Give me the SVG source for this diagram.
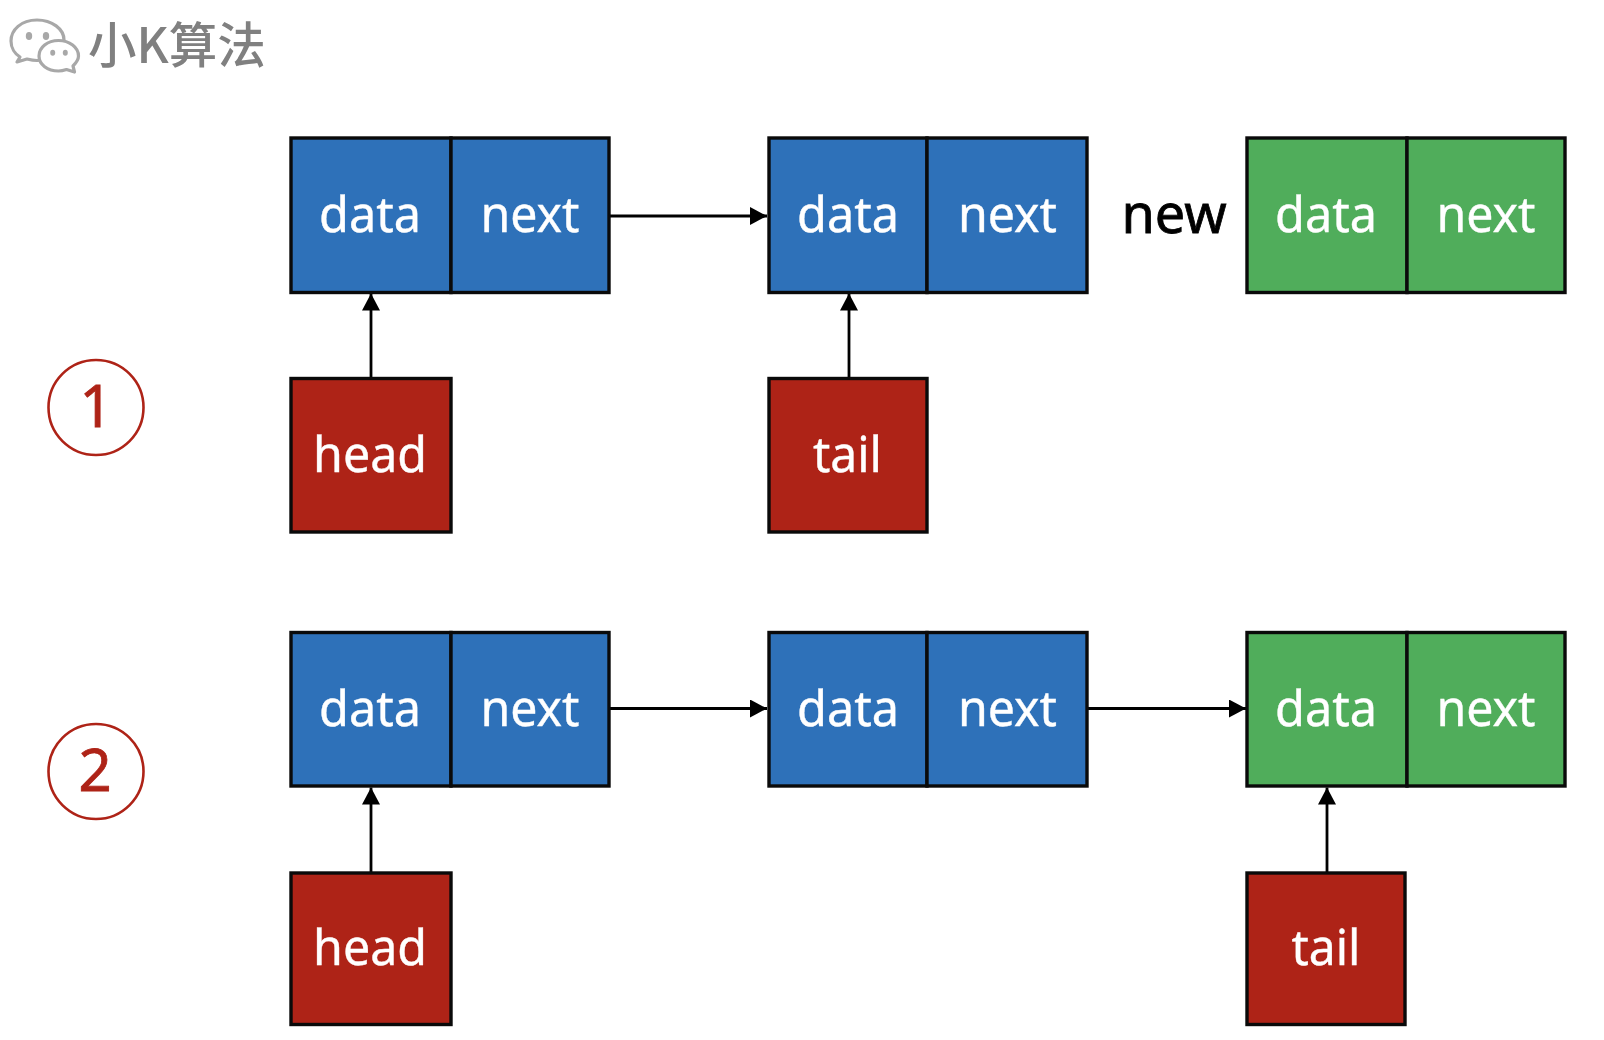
<svg xmlns="http://www.w3.org/2000/svg" width="1604" height="1040" viewBox="0 0 1604 1040">
<style>
.cell{stroke:#0a0a0a;stroke-width:3.400}
.blue{fill:#2e71b9}
.green{fill:#50ad5b}
.red{fill:#ae2317}
.t{font-family:"Noto Sans","Open Sans","DejaVu Sans",sans-serif;font-size:50px;text-anchor:middle;fill:#fff;stroke:#fff;stroke-width:.4}
.new{fill:#000;stroke:#000;stroke-width:.8;font-size:54px}
.num{fill:#ae2317;stroke:#ae2317;stroke-width:.8;font-size:58px}
.ring{fill:none;stroke:#ae2317;stroke-width:2.600}
.wire{fill:none;stroke:#000;stroke-width:2.800}
.logo{fill:#fff;stroke:#a8a8a8;stroke-width:3.200;stroke-linejoin:round}
.eye{fill:#a8a8a8}
.brand{font-family:"Noto Sans CJK SC","Noto Sans",sans-serif;font-size:48.500px;font-weight:500;fill:#808080}
</style>
<defs>
<marker id="arrow" markerUnits="userSpaceOnUse" markerWidth="18" markerHeight="18" refX="17" refY="9" orient="auto">
<path d="M0 0L17 9L0 18Z" fill="#000"/>
</marker>
</defs>
<rect width="1604" height="1040" fill="#fff"/>

<g id="logo">
<path class="logo" d="M37 20C21 20 11 30 11 41C11 48 15 54 20 57L17 62L27 59C31 60 34 60.500 37 60.500C52 60.500 64 51 64 40C64 29 52 20 37 20Z"/>
<ellipse class="eye" cx="29" cy="36" rx="3.200" ry="4"/>
<ellipse class="eye" cx="46" cy="36" rx="3.200" ry="4"/>
<path class="logo" d="M58.500 40.500C47.500 40.500 39 47.500 39 56C39 64.500 47.500 71 58.500 71C61.500 71 63.500 70.500 66.500 69.500L74.500 72L73 66C76 63 78.500 60 78.500 56C78.500 47.500 69.500 40.500 58.500 40.500Z"/>
<ellipse class="eye" cx="52.700" cy="52.700" rx="2.500" ry="3"/>
<ellipse class="eye" cx="65.300" cy="52.700" rx="2.500" ry="3"/>
<text class="brand" x="88" y="63">小K算法</text>
</g>

<g id="connectors">
<line class="wire" x1="609" y1="216" x2="767" y2="216" marker-end="url(#arrow)"/>
<line class="wire" x1="371" y1="378" x2="371" y2="293.500" marker-end="url(#arrow)"/>
<line class="wire" x1="849" y1="378" x2="849" y2="293.500" marker-end="url(#arrow)"/>
<line class="wire" x1="609" y1="708.500" x2="767" y2="708.500" marker-end="url(#arrow)"/>
<line class="wire" x1="1087" y1="708.500" x2="1246" y2="708.500" marker-end="url(#arrow)"/>
<line class="wire" x1="371" y1="873" x2="371" y2="787.500" marker-end="url(#arrow)"/>
<line class="wire" x1="1327" y1="873" x2="1327" y2="787.500" marker-end="url(#arrow)"/>
</g>

<g id="marker-1"><circle class="ring" cx="96" cy="407.500" r="47.500"/><text class="t num" x="96" y="427">1</text></g>
<g id="marker-2"><circle class="ring" cx="96" cy="771.500" r="47.500"/><text class="t num" x="95" y="791">2</text></g>

<g id="node-a1">
<rect class="cell blue" x="291" y="138" width="160" height="154.500"/><rect class="cell blue" x="451" y="138" width="158" height="154.500"/>
<text class="t" x="370" y="232" textLength="102" lengthAdjust="spacingAndGlyphs">data</text><text class="t" x="530" y="232" textLength="99" lengthAdjust="spacingAndGlyphs">next</text>
</g>
<g id="node-a2">
<rect class="cell blue" x="769" y="138" width="158" height="154.500"/><rect class="cell blue" x="927" y="138" width="160" height="154.500"/>
<text class="t" x="848" y="232" textLength="102" lengthAdjust="spacingAndGlyphs">data</text><text class="t" x="1007.500" y="232" textLength="99" lengthAdjust="spacingAndGlyphs">next</text>
</g>
<g id="label-new"><text class="t new" x="1174" y="233">new</text></g>
<g id="node-a3">
<rect class="cell green" x="1247" y="138" width="160" height="154.500"/><rect class="cell green" x="1407" y="138" width="158" height="154.500"/>
<text class="t" x="1326" y="232" textLength="102" lengthAdjust="spacingAndGlyphs">data</text><text class="t" x="1486" y="232" textLength="99" lengthAdjust="spacingAndGlyphs">next</text>
</g>
<g id="head-1"><rect class="cell red" x="291" y="378.500" width="160" height="153.500"/><text class="t" x="370" y="471.500" textLength="114" lengthAdjust="spacingAndGlyphs">head</text></g>
<g id="tail-1"><rect class="cell red" x="769" y="378.500" width="158" height="153.500"/><text class="t" x="847.500" y="471.500" textLength="69" lengthAdjust="spacingAndGlyphs">tail</text></g>

<g id="node-b1">
<rect class="cell blue" x="291" y="632.500" width="160" height="153.500"/><rect class="cell blue" x="451" y="632.500" width="158" height="153.500"/>
<text class="t" x="370" y="726" textLength="102" lengthAdjust="spacingAndGlyphs">data</text><text class="t" x="530" y="726" textLength="99" lengthAdjust="spacingAndGlyphs">next</text>
</g>
<g id="node-b2">
<rect class="cell blue" x="769" y="632.500" width="158" height="153.500"/><rect class="cell blue" x="927" y="632.500" width="160" height="153.500"/>
<text class="t" x="848" y="726" textLength="102" lengthAdjust="spacingAndGlyphs">data</text><text class="t" x="1007.500" y="726" textLength="99" lengthAdjust="spacingAndGlyphs">next</text>
</g>
<g id="node-b3">
<rect class="cell green" x="1247" y="632.500" width="160" height="153.500"/><rect class="cell green" x="1407" y="632.500" width="158" height="153.500"/>
<text class="t" x="1326" y="726" textLength="102" lengthAdjust="spacingAndGlyphs">data</text><text class="t" x="1486" y="726" textLength="99" lengthAdjust="spacingAndGlyphs">next</text>
</g>
<g id="head-2"><rect class="cell red" x="291" y="873" width="160" height="151.500"/><text class="t" x="370" y="965" textLength="114" lengthAdjust="spacingAndGlyphs">head</text></g>
<g id="tail-2"><rect class="cell red" x="1247" y="873" width="158" height="151.500"/><text class="t" x="1326" y="965" textLength="69" lengthAdjust="spacingAndGlyphs">tail</text></g>
</svg>
